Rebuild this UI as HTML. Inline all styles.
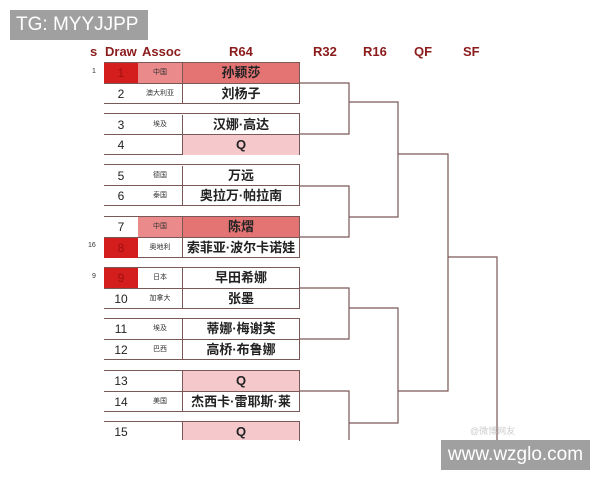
<!DOCTYPE html>
<html><head><meta charset="utf-8"><style>
body{margin:0;width:600px;height:480px;background:#fff;position:relative;overflow:hidden;font-family:"Liberation Sans","Noto Sans CJK SC",sans-serif}
.a{position:absolute}
.h{position:absolute;top:44px;color:#8b1c1c;font-weight:bold;font-size:13px}
.c{position:absolute;height:20px;line-height:20px;text-align:center;box-sizing:border-box}
.d{left:104px;width:34px;font-size:12px;color:#222}
.s{left:138px;width:44px;font-size:7px;color:#333}
.n{left:182px;width:117px;font-size:13px;font-weight:bold;color:#222;border-left:1px solid #7a5858}
.box{position:absolute;left:104px;width:195px;height:40px;border:1px solid #7a5858;border-left:none;box-sizing:content-box}
.sd{position:absolute;left:84px;font-size:7px;color:#333}
</style></head><body>
<div class="a" style="left:10px;top:10px;width:138px;height:30px;background:#a0a0a0;color:#fff;font-size:19px;line-height:30px;padding-left:6px;box-sizing:border-box">TG: MYYJJPP</div>
<div class="h" style="left:90px">s</div>
<div class="h" style="left:105px">Draw</div>
<div class="h" style="left:142px">Assoc</div>
<div class="h" style="left:229px">R64</div>
<div class="h" style="left:313px">R32</div>
<div class="h" style="left:363px">R16</div>
<div class="h" style="left:414px">QF</div>
<div class="h" style="left:463px">SF</div>

<div class="box" style="top:62px"></div>
<div class="box" style="top:113px"></div>
<div class="box" style="top:164px"></div>
<div class="box" style="top:216px"></div>
<div class="box" style="top:267px"></div>
<div class="box" style="top:318px"></div>
<div class="box" style="top:370px"></div>
<div class="box" style="top:421px;height:19px;border-bottom:none"></div>

<div class="a" style="left:104px;top:83px;width:195px;height:1px;background:#7a5858"></div>
<div class="a" style="left:104px;top:134px;width:195px;height:1px;background:#7a5858"></div>
<div class="a" style="left:104px;top:185px;width:195px;height:1px;background:#7a5858"></div>
<div class="a" style="left:104px;top:237px;width:195px;height:1px;background:#7a5858"></div>
<div class="a" style="left:104px;top:288px;width:195px;height:1px;background:#7a5858"></div>
<div class="a" style="left:104px;top:339px;width:195px;height:1px;background:#7a5858"></div>
<div class="a" style="left:104px;top:391px;width:195px;height:1px;background:#7a5858"></div>

<div class="c d" style="top:63px;background:#d41e1e;color:#a01010">1</div><div class="c s" style="top:63px;background:#ea8a8a">中国</div><div class="c n" style="top:63px;background:#e47474">孙颖莎</div>
<div class="c d" style="top:84px">2</div><div class="c s" style="top:84px">澳大利亚</div><div class="c n" style="top:84px">刘杨子</div>
<div class="c d" style="top:115px">3</div><div class="c s" style="top:115px">埃及</div><div class="c n" style="top:115px">汉娜·高达</div>
<div class="c d" style="top:135px">4</div><div class="c n" style="top:135px;background:#f5c9cc">Q</div>
<div class="c d" style="top:166px">5</div><div class="c s" style="top:166px">德国</div><div class="c n" style="top:166px">万远</div>
<div class="c d" style="top:186px">6</div><div class="c s" style="top:186px">泰国</div><div class="c n" style="top:186px">奥拉万·帕拉南</div>
<div class="c d" style="top:217px">7</div><div class="c s" style="top:217px;background:#ea8a8a">中国</div><div class="c n" style="top:217px;background:#e47474">陈熠</div>
<div class="c d" style="top:238px;background:#d41e1e;color:#a01010">8</div><div class="c s" style="top:238px">奥地利</div><div class="c n" style="top:238px">索菲亚·波尔卡诺娃</div>
<div class="c d" style="top:268px;background:#d41e1e;color:#a01010">9</div><div class="c s" style="top:268px">日本</div><div class="c n" style="top:268px">早田希娜</div>
<div class="c d" style="top:289px">10</div><div class="c s" style="top:289px">加拿大</div><div class="c n" style="top:289px">张墨</div>
<div class="c d" style="top:319px">11</div><div class="c s" style="top:319px">埃及</div><div class="c n" style="top:319px">蒂娜·梅谢芙</div>
<div class="c d" style="top:340px">12</div><div class="c s" style="top:340px">巴西</div><div class="c n" style="top:340px">高桥·布鲁娜</div>
<div class="c d" style="top:371px">13</div><div class="c n" style="top:371px;background:#f5c9cc">Q</div>
<div class="c d" style="top:392px">14</div><div class="c s" style="top:392px">美国</div><div class="c n" style="top:392px">杰西卡·雷耶斯·莱</div>
<div class="c d" style="top:422px;height:18px">15</div><div class="c n" style="top:422px;height:18px;background:#f5c9cc">Q</div>

<div class="sd" style="top:68px;left:92px">1</div>
<div class="sd" style="top:242px;left:88px">16</div>
<div class="sd" style="top:273px;left:92px">9</div>

<svg class="a" style="left:0;top:0" width="600" height="480">
<g stroke="#7a5858" stroke-width="1.2" fill="none">
<polyline points="299,83 349,83 349,134 299,134"/>
<polyline points="299,186 349,186 349,237 299,237"/>
<polyline points="299,288 349,288 349,339 299,339"/>
<polyline points="299,391 349,391 349,440"/>
<polyline points="349,102 398,102 398,217 349,217"/>
<polyline points="349,308 398,308 398,423 349,423"/>
<polyline points="398,154 448,154 448,391 398,391"/>
<polyline points="448,257 497,257 497,440"/>
</g></svg>
<div class="a" style="left:470px;top:424px;font-size:9px;color:#ccc">@微博网友</div>
<div class="a" style="left:441px;top:440px;width:149px;height:30px;background:#a0a0a0;color:#fff;font-size:19px;line-height:30px;text-align:center">www.wzglo.com</div>
</body></html>
